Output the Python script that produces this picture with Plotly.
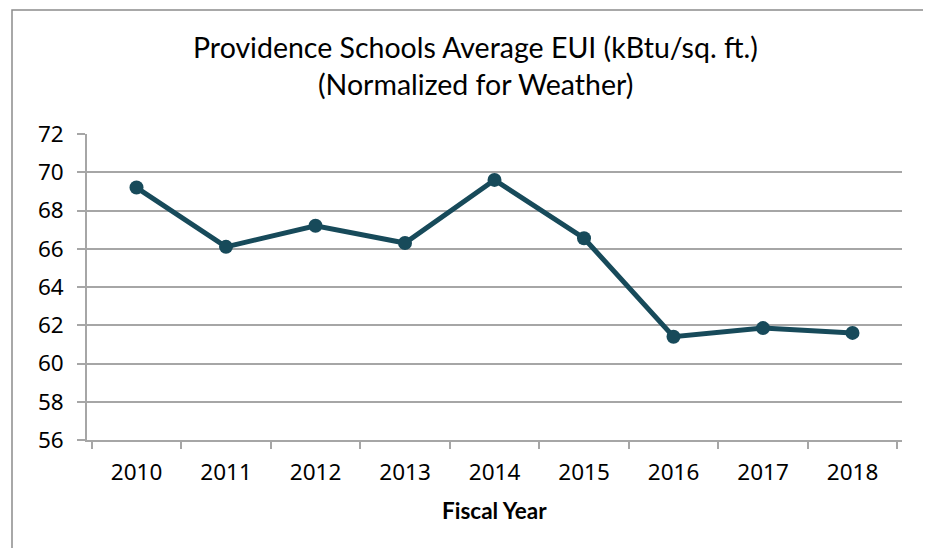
import plotly.graph_objects as go

years = ["2010", "2011", "2012", "2013", "2014", "2015", "2016", "2017", "2018"]
eui = [69.2, 66.1, 67.2, 66.3, 69.6, 66.55, 61.4, 61.85, 61.6]
y_ticks = [56, 58, 60, 62, 64, 66, 68, 70, 72]

title_line1 = "Providence Schools Average EUI (kBtu/sq. ft.)"
title_line2 = "(Normalized for Weather)"
x_title = "Fiscal Year"

LINE = "#174A5A"
GRID = "#A6A6A6"

OFF = 8  # page offset of the figure
W, H = 923, 540
L, R, T, B = 79, 29, 126, 108
pw = W - L - R
ph = H - T - B

def px(x):
    return (x - OFF - L) / pw

def py(y):
    return (H - B - (y - OFF)) / ph

fig = go.Figure()
fig.add_trace(go.Scatter(
    x=years, y=eui, mode="lines+markers",
    line=dict(color=LINE, width=5),
    marker=dict(color=LINE, size=14),
    showlegend=False, hoverinfo="x+y",
))

fig.update_layout(
    width=W, height=H,
    margin=dict(l=L, r=R, t=T, b=B),
    paper_bgcolor="white", plot_bgcolor="white",
    font=dict(family="Noto Sans", color="#000000"),
    xaxis=dict(
        type="category",
        showgrid=False,
        showline=True, linecolor=GRID, linewidth=1.5,
        ticks="outside", tickson="boundaries", ticklen=7,
        tickcolor=GRID, tickwidth=1.5,
        tickfont=dict(size=22.5, family="Noto Sans"),
        ticklabelstandoff=11,
        fixedrange=True,
    ),
    yaxis=dict(
        range=[56, 72],
        tickvals=y_ticks,
        showgrid=True, gridcolor=GRID, gridwidth=1.5,
        showline=True, linecolor=GRID, linewidth=1.5,
        ticks="outside", ticklen=8, tickcolor=GRID, tickwidth=1.5,
        tickfont=dict(size=22.5, family="Noto Sans"),
        ticklabelstandoff=9,
        zeroline=False,
        fixedrange=True,
    ),
    shapes=[dict(
        type="rect", xref="paper", yref="paper",
        x0=px(12), x1=px(927), y0=py(565), y1=py(10),
        line=dict(color="#8C8C8C", width=1.5),
        fillcolor="rgba(0,0,0,0)", layer="below",
    )],
    annotations=[
        dict(text=title_line1, xref="paper", yref="paper",
             x=px(475), y=py(47), xanchor="center", yanchor="middle",
             showarrow=False, font=dict(family="Lato", size=28.5, color="#000")),
        dict(text=title_line2, xref="paper", yref="paper",
             x=px(475), y=py(84), xanchor="center", yanchor="middle",
             showarrow=False, font=dict(family="Lato", size=28.5, color="#000")),
        dict(text="<b>" + x_title + "</b>", xref="paper", yref="paper",
             x=px(494), y=py(510), xanchor="center", yanchor="middle",
             showarrow=False, font=dict(family="Lato", size=22.5, color="#000")),
    ],
)

fig.write_html("out.html")
